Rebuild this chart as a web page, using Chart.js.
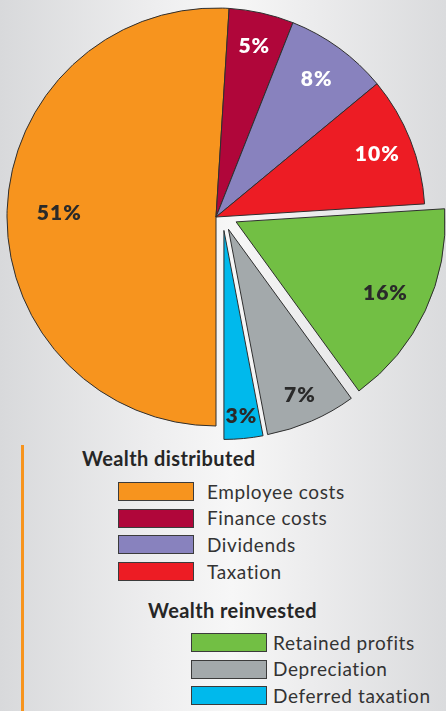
<!DOCTYPE html>
<html>
<head>
<meta charset="utf-8">
<script src="https://cdn.jsdelivr.net/npm/chart.js@4"></script>
<style>
  html, body { margin: 0; padding: 0; }
  body {
    width: 446px; height: 711px; overflow: hidden; position: relative;
    background: linear-gradient(to right, #d8d9db 0%, #eeeeef 35%, #f7f7f7 52%, #ececed 70%, #dadbdd 100%);
    font-family: Lato, "Open Sans", sans-serif;
  }
  #pie { position: absolute; left: 0; top: 0; }
  .rule { position: absolute; left: 21px; top: 445px; width: 2.5px; height: 266px; background: #f7941d; }
  .title { position: absolute; font-weight: 700; font-size: 20px; line-height: 20px; color: #262626; white-space: nowrap; letter-spacing: 0.4px; }
  .swatch { position: absolute; width: 74px; height: 17px; border: 1px solid #3b3b3b; }
  .item { position: absolute; font-size: 19px; line-height: 20px; color: #333; white-space: nowrap; letter-spacing: 0.6px; }
</style>
</head>
<body>
<canvas id="pie" width="446" height="445"></canvas>
<div class="rule"></div>
<div id="legend"></div>
<script>
// value added statement: where the money went
const categories = ['Employee costs', 'Finance costs', 'Dividends', 'Taxation',
                    'Retained profits', 'Depreciation', 'Deferred taxation'];
const shares = [51, 5, 8, 10, 16, 7, 3];
const groupNames = ['Wealth distributed', 'Wealth reinvested'];
const groupOf = [0, 0, 0, 0, 1, 1, 1];

const sliceColors = ['#f7941e', '#b0063a', '#8882be', '#ed1c24', '#72bf44', '#a3a9ab', '#00b9ec'];
const labelColors = ['#2a2a2a', '#ffffff', '#ffffff', '#ffffff', '#2a2a2a', '#2a2a2a', '#2a2a2a'];
// how far out from the centre each percentage sits (fraction of radius)
const labelRadius = [0.75, 0.84, 0.82, 0.83, 0.79, 0.86, 0.89];

// reinvested slices are pulled out of the pie
const explode = 15;
const groupShift = { x: 6.5, y: -1.5 };

function sliceShift(arc, i) {
  if (groupOf[i] !== 1) return { x: 0, y: 0 };
  const mid = (arc.startAngle + arc.endAngle) / 2;
  return { x: groupShift.x + Math.cos(mid) * explode, y: groupShift.y + Math.sin(mid) * explode };
}

const explodePlugin = {
  id: 'explode',
  beforeDatasetDraw(chart, args) {
    const ctx = chart.ctx;
    args.meta.data.forEach((arc, i) => {
      const s = sliceShift(arc, i);
      ctx.save();
      ctx.translate(s.x, s.y);
      arc.draw(ctx, chart.chartArea);
      ctx.restore();
    });
    return false;
  },
  afterDatasetsDraw(chart) {
    const ctx = chart.ctx;
    const meta = chart.getDatasetMeta(0);
    ctx.save();
    ctx.font = '800 21px Lato';
    ctx.letterSpacing = '1px';
    ctx.textAlign = 'center';
    ctx.textBaseline = 'middle';
    meta.data.forEach((arc, i) => {
      const s = sliceShift(arc, i);
      const mid = (arc.startAngle + arc.endAngle) / 2;
      const r = arc.outerRadius * labelRadius[i];
      ctx.fillStyle = labelColors[i];
      ctx.fillText(shares[i] + '%', arc.x + Math.cos(mid) * r + s.x, arc.y + Math.sin(mid) * r + s.y + 1);
    });
    ctx.restore();
  }
};

new Chart(document.getElementById('pie').getContext('2d'), {
  type: 'pie',
  data: {
    labels: categories,
    datasets: [{
      data: shares,
      backgroundColor: sliceColors,
      borderColor: '#2e2e2e',
      borderWidth: 1
    }]
  },
  options: {
    responsive: false,
    animation: false,
    rotation: 180,
    radius: 209,
    layout: { padding: { left: 0, top: 0, right: 14, bottom: 11 } },
    plugins: { legend: { display: false }, tooltip: { enabled: false } }
  },
  plugins: [explodePlugin]
});

// two-part key under the pie
const legend = document.getElementById('legend');
const keyLayout = [
  { titleLeft: 82, titleTop: 448.3, boxLeft: 118, textLeft: 207, firstTop: 482, step: 26.7 },
  { titleLeft: 148, titleTop: 600, boxLeft: 191, textLeft: 273, firstTop: 633, step: 26.5 }
];
groupNames.forEach((name, g) => {
  const k = keyLayout[g];
  const t = document.createElement('div');
  t.className = 'title';
  t.textContent = name;
  t.style.left = k.titleLeft + 'px';
  t.style.top = k.titleTop + 'px';
  legend.appendChild(t);
  let row = 0;
  categories.forEach((c, i) => {
    if (groupOf[i] !== g) return;
    const top = k.firstTop + row * k.step;
    const box = document.createElement('div');
    box.className = 'swatch';
    box.style.left = k.boxLeft + 'px';
    box.style.top = top + 'px';
    box.style.background = sliceColors[i];
    legend.appendChild(box);
    const txt = document.createElement('div');
    txt.className = 'item';
    txt.textContent = c;
    txt.style.left = k.textLeft + 'px';
    txt.style.top = (top - 0.4) + 'px';
    legend.appendChild(txt);
    row++;
  });
});
</script>
</body>
</html>
